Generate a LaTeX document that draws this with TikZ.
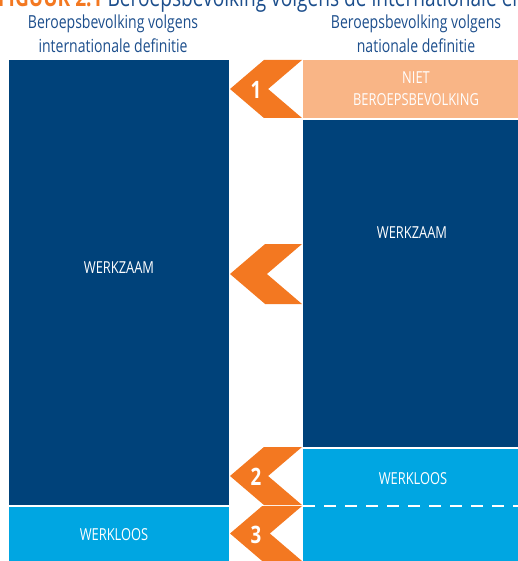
\documentclass[tikz,border=0pt]{standalone}
\usepackage{fontspec}
\setmainfont{Open Sans}[FakeStretch=0.78]
\newfontfamily\boldcond{Open Sans}[FakeStretch=0.78,UprightFont=* Bold]
\definecolor{dblue}{RGB}{0,66,122}
\definecolor{lblue}{RGB}{0,166,226}
\definecolor{peach}{RGB}{249,181,134}
\definecolor{orng}{RGB}{243,120,33}
\definecolor{hblue}{RGB}{28,78,140}
\begin{document}
\begin{tikzpicture}[x=1pt,y=-1pt,
  box/.style={inner sep=0pt,outer sep=0pt,anchor=north west},
  lbl/.style={text=white,font=\fontsize{16.5}{22}\selectfont,align=center},
  head/.style={text=hblue,font=\fontsize{18}{24}\selectfont,align=center},
  num/.style={text=white,font=\boldcond\fontsize{24}{24}\selectfont},
  chev/.style={fill=orng,draw=none}]
\useasboundingbox (0,0) rectangle (518,561);
% cropped title
\node[anchor=base west,inner sep=0pt,font=\fontsize{24.5}{24}\selectfont] (title) at (-2,7)
  {\textcolor{orng}{\boldcond FIGUUR 2.1} \textcolor{hblue}{Beroepsbevolking volgens de internationale en nationale definitie}};
% headers
\node[head] (hl) at (113,34) {Beroepsbevolking volgens\\internationale definitie};
\node[head] (hr) at (416,34) {Beroepsbevolking volgens\\nationale definitie};
% left column
\node[box,fill=dblue,minimum width=220pt,minimum height=445pt] (lwerk) at (9,60) {};
\node[box,fill=lblue,minimum width=220pt,minimum height=55pt] (lloos) at (9,507) {};
\node[lbl] (tlwerk) at (119,268) {WERKZAAM};
\node[lbl] (tlloos) at (114,535) {WERKLOOS};
% right column
\node[box,fill=peach,minimum width=215pt,minimum height=58pt] (rniet) at (303,60) {};
\node[box,fill=dblue,minimum width=215pt,minimum height=327pt] (rwerk) at (303,120) {};
\node[box,fill=lblue,minimum width=215pt,minimum height=113pt] (rloos) at (303,449) {};
\node[lbl] (trniet) at (416,89) {NIET\\BEROEPSBEVOLKING};
\node[lbl] (trwerk) at (412,233) {WERKZAAM};
\node[lbl] (trloos) at (413,479) {WERKLOOS};
\coordinate (dA) at (303,506);
\coordinate (dB) at (518,506);
\draw[white,line width=2pt,dash pattern=on 12pt off 9pt] (dA) -- (dB);
% chevrons
\foreach \t/\b/\n/\lab in {60/118/c1/1, 244/304/c2/, 447/505/c3/2, 506/561/c4/3}{
  \pgfmathsetmacro{\m}{(\t+\b)/2}
  \pgfmathsetmacro{\h}{(\b-\t)/2}
  \pgfmathsetmacro{\w}{\h*1.17}
  \fill[chev] (230,\m) -- (230+\w,\t) -- (302,\t) -- (302-\w,\m) -- (302,\b) -- (230+\w,\b) -- cycle;
  \node[num] (\n) at (256,\m+1) {\lab};
}
\end{tikzpicture}
\end{document}
